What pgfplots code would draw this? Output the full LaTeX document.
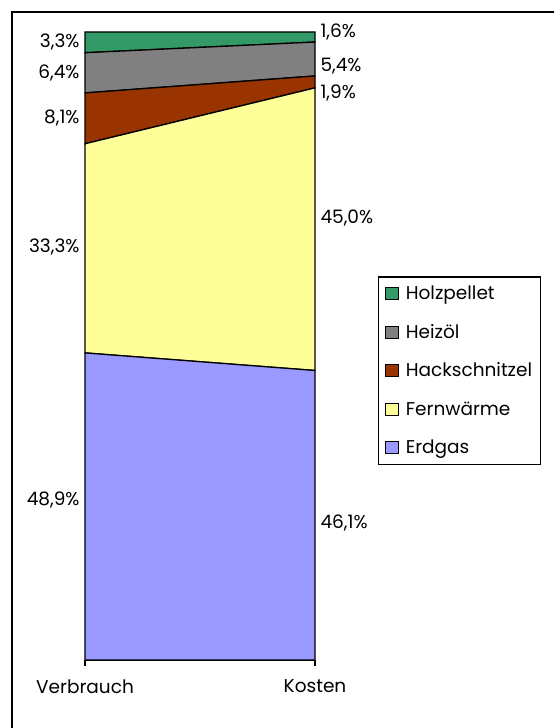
\documentclass[border=0pt]{standalone}
\usepackage{pgfplots}
\pgfplotsset{compat=1.18}
\usepackage{fontspec}
\setmainfont{Poppins}
\definecolor{holz}{HTML}{339966}
\definecolor{heiz}{HTML}{808080}
\definecolor{hack}{HTML}{993300}
\definecolor{fern}{HTML}{FFFF99}
\definecolor{erd}{HTML}{9999FF}
\begin{document}
\begin{tikzpicture}[x=1pt,y=1pt]
\path[use as bounding box] (0,0) rectangle (554,728);
\draw[line width=1.8pt] (12,0) -- (12,716) -- (560,716);
\begin{axis}[
  at={(85pt,68pt)}, anchor=south west,
  scale only axis, width=230pt, height=628pt,
  xmin=0, xmax=1, ymin=0, ymax=100,
  enlargelimits=false,
  stack plots=y,
  axis x line*=bottom, hide y axis,
  axis line style={line width=1.3pt},
  xtick={0,1}, xticklabels={Verbrauch,Kosten},
  tick align=outside, major tick length=6pt,
  xtick style={line width=1.3pt, black},
  xticklabel style={yshift=-10pt},
  font=\fontsize{18.5}{22}\selectfont,
  legend style={at={(1.274,0.611)}, anchor=north west, draw=black, line width=1.3pt,
    font=\fontsize{18.5}{22}\selectfont, row sep=19pt, inner xsep=6pt, inner ysep=7pt,
    cells={anchor=west, text height=14pt, text depth=4pt}},
  legend image code/.code={\draw[#1,draw=black,line width=1pt] (0pt,-6pt) rectangle (13pt,6pt); \path (18pt,0pt);},
  reverse legend,
  clip=false,
]
\addplot[fill=erd, draw=black, line width=1.3pt] coordinates {(0,48.9) (1,46.1)} \closedcycle;
\addlegendentry{Erdgas}
\addplot[fill=fern, draw=black, line width=1.3pt] coordinates {(0,33.3) (1,45.0)} \closedcycle;
\addlegendentry{Fernwärme}
\addplot[fill=hack, draw=black, line width=1.3pt] coordinates {(0,8.1) (1,1.9)} \closedcycle;
\addlegendentry{Hackschnitzel}
\addplot[fill=heiz, draw=black, line width=1.3pt] coordinates {(0,6.4) (1,5.4)} \closedcycle;
\addlegendentry{Heizöl}
\addplot[fill=holz, draw=black, line width=1.3pt] coordinates {(0,3.3) (1,1.6)} \closedcycle;
\addlegendentry{Holzpellet}
\node[anchor=east] at (axis cs:0,25.5) [xshift=-2pt] {48,9\%};
\node[anchor=east] at (axis cs:0,65.8) [xshift=-2pt] {33,3\%};
\node[anchor=east] at (axis cs:0,86.3) [xshift=-2pt] {8,1\%};
\node[anchor=east] at (axis cs:0,93.5) [xshift=-2pt] {6,4\%};
\node[anchor=east] at (axis cs:0,98.4) [xshift=-2pt] {3,3\%};
\node[anchor=west] at (axis cs:1,21.8) [xshift=2pt] {46,1\%};
\node[anchor=west] at (axis cs:1,70.4) [xshift=2pt] {45,0\%};
\node[anchor=west] at (axis cs:1,90.3) [xshift=2pt] {1,9\%};
\node[anchor=west] at (axis cs:1,94.6) [xshift=2pt] {5,4\%};
\node[anchor=west] at (axis cs:1,100) [xshift=2pt] {1,6\%};
\end{axis}
\end{tikzpicture}
\end{document}
